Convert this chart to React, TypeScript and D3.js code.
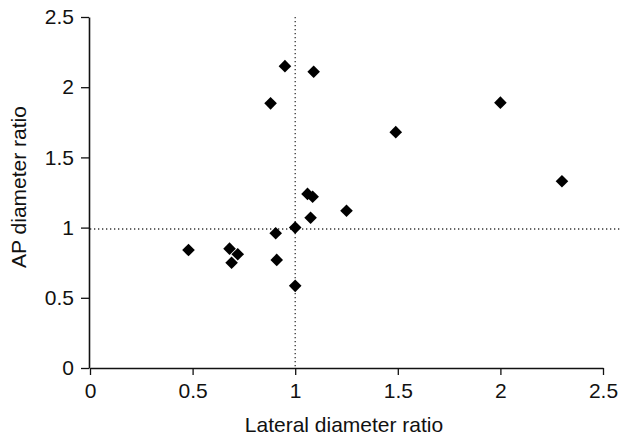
import React, { useEffect, useRef } from 'react';
import * as d3 from 'd3';

const lateralRatio = [0.95, 1.09, 0.88, 1.06, 1.085, 1.075, 2.0, 1.49, 2.3, 1.25, 0.48, 0.68, 0.72, 0.69, 0.905, 0.91, 1.0, 1.0];
const apRatio = [2.15, 2.11, 1.885, 1.24, 1.22, 1.07, 1.89, 1.68, 1.33, 1.12, 0.84, 0.85, 0.81, 0.75, 0.96, 0.77, 1.0, 0.585];
const ticks = [0, 0.5, 1, 1.5, 2, 2.5];
const tickLabels = ['0', '0.5', '1', '1.5', '2', '2.5'];
const refX = 1.0;
const refY = 0.99;

const App = () => {
    const ref = useRef<SVGSVGElement | null>(null);

    useEffect(() => {
        if (!ref.current) return;
        const svg = d3.select(ref.current);
        svg.selectAll('*').remove();

        const font = 'Liberation Sans, Arial, sans-serif';
        const x = d3.scaleLinear().domain([0, 2.5]).range([90, 603]);
        const y = d3.scaleLinear().domain([0, 2.5]).range([368, 17]);

        // reference lines
        svg.append('line')
            .attr('x1', x(refX)).attr('x2', x(refX))
            .attr('y1', y(2.5)).attr('y2', y(0))
            .attr('stroke', '#333').attr('stroke-width', 1.3)
            .attr('stroke-dasharray', '1.3,2.7');
        svg.append('line')
            .attr('x1', x(0)).attr('x2', x(2.59))
            .attr('y1', y(refY)).attr('y2', y(refY))
            .attr('stroke', '#333').attr('stroke-width', 1.3)
            .attr('stroke-dasharray', '1.3,2.7');

        // axes
        const xAxis = svg.append('g')
            .attr('transform', `translate(0,${y(0)})`)
            .call(d3.axisBottom(x).tickValues(ticks).tickSize(7).tickSizeOuter(0)
                .tickFormat((d, i) => tickLabels[i]));
        const yAxis = svg.append('g')
            .attr('transform', `translate(${x(0) - 1},0)`)
            .call(d3.axisLeft(y).tickValues(ticks).tickSize(8).tickSizeOuter(0)
                .tickFormat((d, i) => tickLabels[i]));
        [xAxis, yAxis].forEach(g => {
            g.select('.domain').attr('stroke', '#111').attr('stroke-width', 1.6);
            g.selectAll('.tick line').attr('stroke', '#111').attr('stroke-width', 1.3);
            g.selectAll('.tick text')
                .attr('fill', '#111')
                .style('font-family', font)
                .style('font-size', '21px');
        });
        xAxis.selectAll('.tick text').attr('dy', '0.71em').attr('y', 15);
        yAxis.selectAll('.tick text').attr('x', -15);

        // points
        svg.append('g')
            .selectAll('path')
            .data(lateralRatio.map((v, i) => [v, apRatio[i]]))
            .join('path')
            .attr('d', d => {
                const cx = x(d[0]), cy = y(d[1]), r = 6.3;
                return `M${cx},${cy - r}L${cx + r},${cy}L${cx},${cy + r}L${cx - r},${cy}Z`;
            })
            .attr('fill', '#000');

        // axis titles
        svg.append('text')
            .attr('x', 344).attr('y', 432)
            .attr('text-anchor', 'middle')
            .style('font-family', font).style('font-size', '21px')
            .attr('fill', '#111')
            .text('Lateral diameter ratio');
        svg.append('text')
            .attr('transform', 'translate(26,187) rotate(-90)')
            .attr('text-anchor', 'middle')
            .style('font-family', font).style('font-size', '21px')
            .attr('fill', '#111')
            .text('AP diameter ratio');
    }, []);

    return (
        <svg ref={ref} width={624} height={437}
            style={{ position: 'absolute', left: 0, top: 0, background: '#fff' }} />
    );
};

export default App;
